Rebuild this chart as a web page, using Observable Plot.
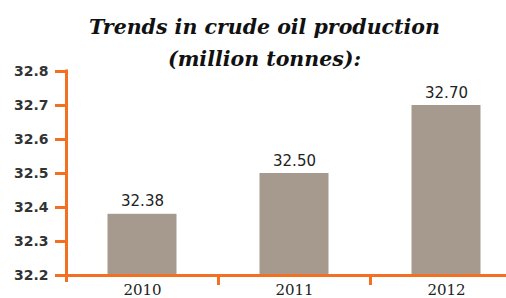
<!DOCTYPE html>
<html>
<head>
<meta charset="utf-8">
<script src="https://cdn.jsdelivr.net/npm/d3@7"></script>
<script src="https://cdn.jsdelivr.net/npm/@observablehq/plot@0.6"></script>
<style>
  html, body { margin: 0; padding: 0; background: #fff; }
  #chart svg { display: block; }
</style>
</head>
<body>
<div id="chart"></div>
<script>
const titleLines = ["Trends in crude oil production", "(million tonnes):"];
const years = ["2010", "2011", "2012"];
const production = [32.38, 32.50, 32.70];
const valueLabels = ["32.38", "32.50", "32.70"];
const yTicks = [32.2, 32.3, 32.4, 32.5, 32.6, 32.7, 32.8];

const orange = "#f36f21";
const barColor = "#a69a8f";
const data = years.map((year, i) => ({year, value: production[i], label: valueLabels[i]}));

const chart = Plot.plot({
  width: 506,
  height: 298,
  marginTop: 71,
  marginBottom: 23,
  marginLeft: 66,
  marginRight: 0,
  style: {background: "#fff", overflow: "visible"},
  x: {type: "band", domain: years, range: [66, 522], padding: 0, label: null},
  y: {domain: [32.2, 32.8], label: null},
  marks: [
    Plot.barY(data, {x: "year", y1: 32.2, y2: "value", fill: barColor, insetLeft: 41.5, insetRight: 41.5}),
    Plot.ruleY([32.2], {stroke: orange, strokeWidth: 3}),
    Plot.ruleX(years.slice(1), {x: d => d, dx: -76, y1: 32.2, y2: 32.2 - 10 / 340, stroke: orange, strokeWidth: 3}),
    Plot.ruleX(years.slice(0, 1), {x: d => d, dx: -76, y1: 32.8 + 1.5 / 340, y2: 32.2 - 7 / 340, stroke: orange, strokeWidth: 3}),
    Plot.axisY({ticks: yTicks, tickFormat: d => d.toFixed(1), stroke: orange, strokeWidth: 3, tickSize: 11, tickPadding: 7,
      fill: "#333", fontSize: 14, fontWeight: "bold", fontFamily: "DejaVu Sans", label: null}),
    Plot.axisX({tickSize: 0, tickPadding: 9, fontSize: 15, fontFamily: "DejaVu Serif", fill: "#222", label: null}),
    Plot.text(data, {x: "year", y: "value", text: "label", dy: -8, lineAnchor: "bottom", fontSize: 15, fontFamily: "DejaVu Sans", fill: "#222"}),
    Plot.text([titleLines.join("\n")], {frameAnchor: "top", dx: -22, dy: -6, lineAnchor: "bottom", lineHeight: 1.55,
      fontSize: 20.5, fontWeight: "bold", fontStyle: "italic", fontFamily: "DejaVu Serif", fill: "#111"})
  ]
});
document.getElementById("chart").append(chart);
</script>
</body>
</html>
